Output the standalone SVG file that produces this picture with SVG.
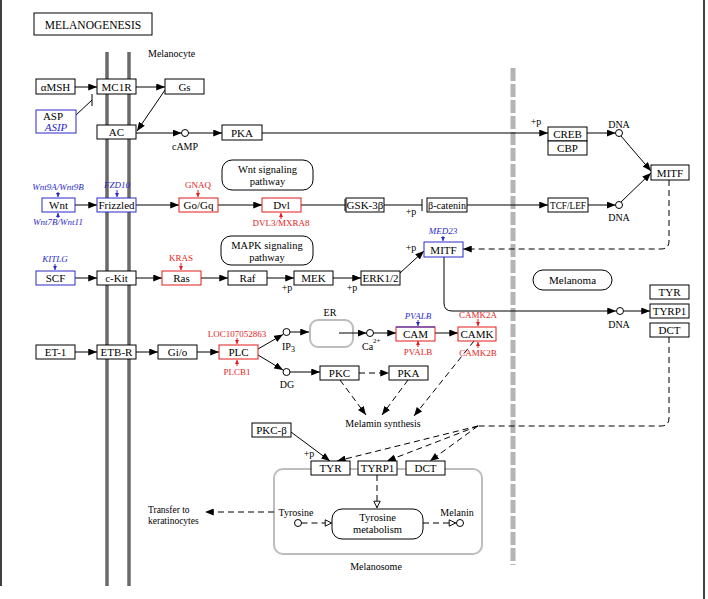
<svg xmlns="http://www.w3.org/2000/svg" width="708" height="599" viewBox="0 0 708 599">
<style>
text{font-family:"Liberation Serif","DejaVu Serif",serif;fill:#000}
.n{font-size:11px;text-anchor:middle}
.p{font-size:10.5px;text-anchor:middle}
.s{font-size:10px;text-anchor:middle}
.g{font-size:9px;text-anchor:middle}
.r{fill:#e21b1b}
.b{fill:#2b2bc8;font-style:italic}
.box{fill:#fff;stroke:#000;stroke-width:1}
.rb{fill:#fff;stroke:#e21b1b;stroke-width:1}
.bb{fill:#fff;stroke:#2b2bc8;stroke-width:1}
.rnd{fill:#fff;stroke:#000;stroke-width:1}
.gray{fill:none;stroke:#bdbdbd;stroke-width:2}
.c{fill:none;stroke:#000;stroke-width:1}
.a{marker-end:url(#ah)}
.d{stroke-dasharray:6,4}
.ot{marker-end:url(#ot)}
.circ{fill:#fff;stroke:#000;stroke-width:1}
.ga{stroke-width:1;fill:none}
.gr{stroke:#e21b1b;marker-end:url(#rh)}
.gb{stroke:#2b2bc8;marker-end:url(#bh)}
</style>
<defs>
<marker id="ah" viewBox="0 0 10 8" refX="10" refY="4" markerWidth="9" markerHeight="7" orient="auto" markerUnits="userSpaceOnUse"><path d="M0,0L10,4L0,8z" fill="#000"/></marker>
<marker id="ot" viewBox="0 0 10 10" refX="9.5" refY="5" markerWidth="8" markerHeight="8" orient="auto" markerUnits="userSpaceOnUse"><path d="M1,1L9,5L1,9z" fill="#fff" stroke="#000" stroke-width="1.2"/></marker>
<marker id="rh" viewBox="0 0 6 6" refX="6" refY="3" markerWidth="4" markerHeight="4" orient="auto" markerUnits="userSpaceOnUse"><path d="M0,0L6,3L0,6z" fill="#e21b1b"/></marker>
<marker id="bh" viewBox="0 0 6 6" refX="6" refY="3" markerWidth="4" markerHeight="4" orient="auto" markerUnits="userSpaceOnUse"><path d="M0,0L6,3L0,6z" fill="#2b2bc8"/></marker>
</defs>
<rect width="708" height="599" fill="#fff"/>
<g id="frame">
<line x1="1" y1="0" x2="1" y2="586" stroke="#000" stroke-width="1.5"/>
<line x1="704" y1="0" x2="704" y2="599" stroke="#000" stroke-width="1.5"/>
</g>
<g id="membrane">
<line x1="107" y1="52" x2="107" y2="586" stroke="#6a6a6a" stroke-width="3.5"/>
<line x1="129" y1="52" x2="129" y2="586" stroke="#6a6a6a" stroke-width="3.5"/>
<line x1="513" y1="68" x2="513" y2="565" stroke="#b3b3b3" stroke-width="5" stroke-dasharray="13,3"/>
</g>
<g id="title"><rect x="34" y="13" width="118" height="22" class="box" stroke-width="1.5"/><text x="93" y="29" style="font-size:11.5px;text-anchor:middle">MELANOGENESIS</text></g>
<text x="148" y="57" style="font-size:10px">Melanocyte</text>

<g id="melanosome"><rect x="274" y="469" width="208" height="85" rx="9" class="gray"/><text class="s" x="376" y="570">Melanosome</text></g>
<g id="er"><text class="s" x="330" y="316">ER</text><rect x="310" y="320" width="43" height="27" rx="8" class="gray"/></g>

<g id="connectors">
<path class="c a" d="M75,87H97"/>
<path class="c" d="M76,115L92,100M92,94V106"/>
<path class="c a" d="M136,87H165"/>
<path class="c a" d="M165,90L137,131"/>
<path class="c a" d="M136,133H181.5"/>
<path class="c a" d="M188.5,133H222"/>
<path class="c a" d="M262,133H548"/>
<path class="c a" d="M587,133H615.5"/>
<path class="c a" d="M621,136L651,171"/>
<path class="c a" d="M588,205H615.5"/>
<path class="c a" d="M621,202L651,173"/>
<path class="c a d" d="M669,180V241Q669,249 661,249H463"/>
<path class="c a" d="M75,205H97"/>
<path class="c a" d="M136,205H179"/>
<path class="c a" d="M218,205H262"/>
<path class="c" d="M301,205H345M345,199V211"/>
<path class="c" d="M384,205H422M422,199V211"/>
<path class="c a" d="M467,205H548"/>
<path class="c a" d="M75,278H97"/>
<path class="c a" d="M136,278H162"/>
<path class="c a" d="M201,278H228"/>
<path class="c a" d="M267,278H294"/>
<path class="c a" d="M333,278H361"/>
<path class="c a" d="M400,273L424,251"/>
<path class="c a" d="M444,257V303Q444,311 452,311H616"/>
<path class="c a" d="M624,311H650"/>
<path class="c d" d="M669,337V418Q669,426 661,426H478"/>
<path class="c a d" d="M478,426L337,461"/>
<path class="c a d" d="M478,426L387,461"/>
<path class="c a d" d="M478,426L430,461"/>
<path class="c a" d="M75,352H97"/>
<path class="c a" d="M136,352H158"/>
<path class="c a" d="M197,352H219"/>
<path class="c a" d="M258,349L283,334.5"/>
<path class="c a" d="M258,355L283,370"/>
<path class="c a" d="M290,332H309"/>
<path class="c a" d="M339,333H366.5"/>
<path class="c a" d="M373.5,333H396"/>
<path class="c a" d="M435,333H458"/>
<path class="c a" d="M290,372H320"/>
<path class="c a d" d="M359,373H389"/>
<path class="c a d" d="M340,380L366,415"/>
<path class="c a d" d="M408,380L382,415"/>
<path class="c a d" d="M474,341L414,416"/>
<path class="c a" d="M291,432L330,461"/>
<path class="c ot d" d="M377,475V508"/>
<path class="c ot d" d="M301.5,523H332"/>
<path class="c ot d" d="M423,523H456"/>
<path class="c a d" d="M274,512H205"/>
<circle class="circ" cx="185" cy="133" r="3.5"/>
<circle class="circ" cx="619" cy="133" r="3.5"/>
<circle class="circ" cx="619" cy="205" r="3.5"/>
<circle class="circ" cx="620" cy="311" r="3.5"/>
<circle class="circ" cx="286.5" cy="332" r="3.5"/>
<circle class="circ" cx="286.5" cy="372" r="3.5"/>
<circle class="circ" cx="370" cy="333" r="3.5"/>
<circle class="circ" cx="298" cy="523" r="3.5"/>
<circle class="circ" cx="460" cy="523" r="3.5"/>
<path class="ga gb" d="M58,192V197"/>
<path class="ga gb" d="M58,218V213"/>
<path class="ga gb" d="M117,190V197"/>
<path class="ga gr" d="M198,190V197"/>
<path class="ga gr" d="M281,219V213"/>
<path class="ga gb" d="M55,264V270"/>
<path class="ga gr" d="M181,263V270"/>
<path class="ga gb" d="M443,236V241"/>
<path class="ga gr" d="M237,338V344"/>
<path class="ga gr" d="M237,366V360"/>
<path class="ga gb" d="M418,320V326"/>
<path class="ga gr" d="M418,347V341"/>
<path class="ga gr" d="M478,319V326"/>
<path class="ga gr" d="M478,348V342"/>
</g>

<g id="labels">
<text class="s" x="185" y="150">cAMP</text>
<text class="s" x="536" y="125">+p</text>
<text class="s" x="619" y="128">DNA</text>
<text class="s" x="619" y="221">DNA</text>
<text class="s" x="619" y="328">DNA</text>
<text class="s" x="411" y="215">+p</text>
<text class="s" x="411" y="251">+p</text>
<text class="s" x="287" y="291">+p</text>
<text class="s" x="352" y="291">+p</text>
<text class="s" x="309" y="457">+p</text>
<text x="282" y="350" style="font-size:10px">IP<tspan dy="2" style="font-size:8px">3</tspan></text>
<text class="s" x="287" y="388">DG</text>
<text x="362" y="350" style="font-size:10px">Ca<tspan dy="-7" style="font-size:7px">2+</tspan></text>
<text class="s" x="383" y="427">Melamin synthesis</text>
<text class="s" x="296" y="516">Tyrosine</text>
<text class="s" x="457" y="516">Melanin</text>
<text x="148" y="513" style="font-size:9.5px">Transfer to</text>
<text x="148" y="524" style="font-size:9.5px">keratinocytes</text>
<text class="g b" x="58" y="190">Wnt9A/Wnt9B</text>
<text class="g b" x="58" y="225">Wnt7B/Wnt11</text>
<text class="g b" x="117" y="188">FZD10</text>
<text class="g r" x="198" y="188">GNAQ</text>
<text class="g r" x="281" y="226">DVL3/MXRA8</text>
<text class="g b" x="55" y="262">KITLG</text>
<text class="g r" x="181" y="261">KRAS</text>
<text class="g b" x="443" y="234">MED23</text>
<text class="g r" x="237" y="337">LOC107052863</text>
<text class="g r" x="237" y="375">PLCB1</text>
<text class="g b" x="418" y="319">PVALB</text>
<text class="g r" x="418" y="355">PVALB</text>
<text class="g r" x="478" y="318">CAMK2A</text>
<text class="g r" x="478" y="356">CAMK2B</text>
</g>

<g id="aMSH"><rect class="box" x="36" y="79" width="39" height="15"/><text class="n" x="55.5" y="91">αMSH</text></g>
<g id="MC1R"><rect class="box" x="97" y="79" width="39" height="15"/><text class="n" x="116.5" y="91">MC1R</text></g>
<g id="Gs"><rect class="box" x="165" y="79" width="39" height="15"/><text class="n" x="184.5" y="91">Gs</text></g>
<g id="ASP"><rect class="bb" x="36" y="110" width="40" height="23"/><text class="n" x="53" y="120">ASP</text><text class="n b" x="56" y="131">ASIP</text></g>
<g id="AC"><rect class="box" x="97" y="125" width="39" height="14"/><text class="n" x="116.5" y="136">AC</text></g>
<g id="PKA1"><rect class="box" x="222" y="125" width="40" height="15"/><text class="n" x="242" y="137">PKA</text></g>
<g id="CREB"><rect class="box" x="548" y="127" width="39" height="14"/><text class="n" x="567.5" y="138">CREB</text></g>
<g id="CBP"><rect class="box" x="548" y="141" width="39" height="14"/><text class="n" x="567.5" y="152">CBP</text></g>
<g id="MITF2"><rect class="box" x="651" y="165" width="38" height="15"/><text class="n" x="670" y="177">MITF</text></g>
<g id="WntPathway"><rect class="rnd" x="222" y="160" width="91" height="30" rx="10"/><text class="p" x="267.5" y="173">Wnt signaling</text><text class="p" x="267.5" y="185">pathway</text></g>
<g id="Wnt"><rect class="bb" x="42" y="198" width="33" height="14"/><text class="n" x="58.5" y="209">Wnt</text></g>
<g id="Frizzled"><rect class="bb" x="97" y="198" width="39" height="14"/><text class="n" x="116.5" y="209">Frizzled</text></g>
<g id="GoGq"><rect class="rb" x="179" y="198" width="39" height="14"/><text class="n" x="198.5" y="209">Go/Gq</text></g>
<g id="Dvl"><rect class="rb" x="262" y="198" width="39" height="14"/><text class="n" x="281.5" y="209">Dvl</text></g>
<g id="GSK3b"><rect class="box" x="346" y="198" width="38" height="14"/><text class="n" x="365" y="209">GSK-3β</text></g>
<g id="bcatenin"><rect class="box" x="427" y="198" width="40" height="14"/><text class="n" x="447" y="209" textLength="38" lengthAdjust="spacingAndGlyphs">β-catenin</text></g>
<g id="TCFLEF"><rect class="box" x="548" y="198" width="40" height="14"/><text class="n" x="568" y="209" textLength="36" lengthAdjust="spacingAndGlyphs">TCF/LEF</text></g>
<g id="MAPKPathway"><rect class="rnd" x="221" y="236" width="92" height="29" rx="10"/><text class="p" x="267" y="249">MAPK signaling</text><text class="p" x="267" y="261">pathway</text></g>
<g id="MITF"><rect class="bb" x="424" y="242" width="39" height="15"/><text class="n" x="443.5" y="254">MITF</text></g>
<g id="SCF"><rect class="bb" x="36" y="271" width="39" height="14"/><text class="n" x="55.5" y="282">SCF</text></g>
<g id="cKit"><rect class="box" x="97" y="271" width="39" height="14"/><text class="n" x="116.5" y="282">c-Kit</text></g>
<g id="Ras"><rect class="rb" x="162" y="271" width="39" height="14"/><text class="n" x="181.5" y="282">Ras</text></g>
<g id="Raf"><rect class="box" x="228" y="271" width="39" height="14"/><text class="n" x="247.5" y="282">Raf</text></g>
<g id="MEK"><rect class="box" x="294" y="271" width="39" height="14"/><text class="n" x="313.5" y="282">MEK</text></g>
<g id="ERK"><rect class="box" x="361" y="271" width="39" height="14"/><text class="n" x="380.5" y="282">ERK1/2</text></g>
<g id="Melanoma"><rect class="rnd" x="533" y="270" width="79" height="20" rx="10"/><text class="n" x="572.5" y="284">Melanoma</text></g>
<g id="TYR2"><rect class="box" x="650" y="285" width="39" height="14"/><text class="n" x="669.5" y="296">TYR</text></g>
<g id="TYRP1b"><rect class="box" x="650" y="304" width="39" height="14"/><text class="n" x="669.5" y="315">TYRP1</text></g>
<g id="DCT2"><rect class="box" x="650" y="323" width="39" height="14"/><text class="n" x="669.5" y="334">DCT</text></g>
<g id="ET1"><rect class="box" x="36" y="345" width="39" height="14"/><text class="n" x="55.5" y="356">ET-1</text></g>
<g id="ETBR"><rect class="box" x="97" y="345" width="39" height="14"/><text class="n" x="116.5" y="356">ETB-R</text></g>
<g id="Gio"><rect class="box" x="158" y="345" width="39" height="14"/><text class="n" x="177.5" y="356">Gi/o</text></g>
<g id="PLC"><rect class="rb" x="219" y="345" width="39" height="14"/><text class="n" x="238.5" y="356">PLC</text></g>
<g id="CAM"><rect class="rb" x="396" y="327" width="39" height="14"/><line x1="396" y1="327" x2="435" y2="327" stroke="#2b2bc8" stroke-width="1.2"/><text class="n" x="415.5" y="338">CAM</text></g>
<g id="CAMK"><rect class="rb" x="458" y="327" width="38" height="14"/><text class="n" x="477" y="338">CAMK</text></g>
<g id="PKC"><rect class="box" x="320" y="366" width="39" height="14"/><text class="n" x="339.5" y="377">PKC</text></g>
<g id="PKA2"><rect class="box" x="389" y="366" width="39" height="14"/><text class="n" x="408.5" y="377">PKA</text></g>
<g id="PKCb"><rect class="box" x="252" y="423" width="39" height="14"/><text class="n" x="271.5" y="434">PKC-β</text></g>
<g id="TYR"><rect class="box" x="311" y="461" width="39" height="14"/><text class="n" x="330.5" y="472">TYR</text></g>
<g id="TYRP1"><rect class="box" x="358" y="461" width="39" height="14"/><text class="n" x="377.5" y="472">TYRP1</text></g>
<g id="DCT"><rect class="box" x="406" y="461" width="39" height="14"/><text class="n" x="425.5" y="472">DCT</text></g>
<g id="TyrMetab"><rect class="rnd" x="332" y="509" width="91" height="30" rx="10"/><text class="p" x="377.5" y="521">Tyrosine</text><text class="p" x="377.5" y="533">metabolism</text></g>
</svg>
